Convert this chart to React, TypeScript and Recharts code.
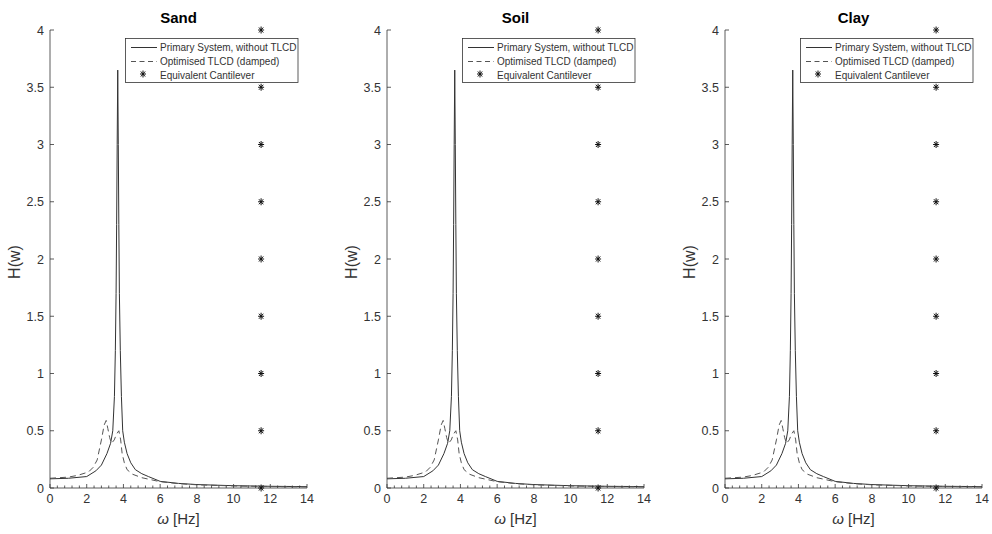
import React from "react";
import { ComposedChart, Line, Scatter, XAxis, YAxis, Legend } from "recharts";

const FONT = '"Liberation Sans", Arial, sans-serif';
const INK = "#333333";

const PANEL_TITLES = ["Sand", "Soil", "Clay"];
const PANEL_LEFT = [0, 337, 675];

// primary system, without TLCD (solid)
const PRIMARY_FREQ = [0, 1, 2, 2.5, 2.8, 3.1, 3.3, 3.42, 3.51, 3.56, 3.6, 3.63, 3.66, 3.69, 3.72, 3.75, 3.78, 3.83, 3.89, 3.96, 4.05, 4.2, 4.4, 4.65, 5, 5.36, 6, 7, 8, 10, 12, 14];
const PRIMARY_H = [0.08, 0.085, 0.1, 0.15, 0.2, 0.3, 0.39, 0.5, 0.8, 1.2, 1.7, 2.3, 3.0, 3.65, 3.0, 2.3, 1.7, 1.2, 0.8, 0.5, 0.4, 0.3, 0.22, 0.16, 0.125, 0.1, 0.058, 0.04, 0.03, 0.02, 0.015, 0.012];

// optimised TLCD, damped (dashed)
const TLCD_FREQ = [0, 1, 1.5, 2.1, 2.35, 2.57, 2.8, 2.95, 3.06, 3.15, 3.25, 3.35, 3.5, 3.62, 3.75, 3.85, 3.93, 4.05, 4.2, 4.5, 5, 6, 7, 8, 10, 12, 14];
const TLCD_H = [0.085, 0.095, 0.11, 0.14, 0.18, 0.245, 0.42, 0.55, 0.59, 0.52, 0.44, 0.39, 0.42, 0.47, 0.5, 0.42, 0.3, 0.22, 0.16, 0.12, 0.09, 0.055, 0.038, 0.028, 0.018, 0.013, 0.01];

// equivalent cantilever (stars)
const CANTILEVER_FREQ = [11.5, 11.5, 11.5, 11.5, 11.5, 11.5, 11.5, 11.5, 11.5];
const CANTILEVER_H = [0, 0.5, 1, 1.5, 2, 2.5, 3, 3.5, 4];

const X_TICKS = [0, 2, 4, 6, 8, 10, 12, 14];
const X_MINOR_TICKS = [0, 0.4, 0.8, 1.2, 1.6, 2, 2.4, 2.8, 3.2, 3.6, 4, 4.4, 4.8, 5.2, 5.6, 6, 6.4, 6.8, 7.2, 7.6, 8, 8.4, 8.8, 9.2, 9.6, 10, 10.4, 10.8, 11.2, 11.6, 12, 12.4, 12.8, 13.2, 13.6, 14];
const Y_TICKS = [0, 0.5, 1, 1.5, 2, 2.5, 3, 3.5, 4];

const primary = PRIMARY_FREQ.map((f, i) => ({ f, h: PRIMARY_H[i] }));
const tlcd = TLCD_FREQ.map((f, i) => ({ f, h: TLCD_H[i] }));
const cantilever = CANTILEVER_FREQ.map((f, i) => ({ f, h: CANTILEVER_H[i] }));

const CHART_W = 330;
const CHART_H = 534;

function Star({ cx, cy }: any) {
  const rx = 3;
  const ry = 3.5;
  const dx = rx * 0.72;
  const dy = ry * 0.72;
  return (
    <g stroke="#111" strokeWidth={1}>
      <line x1={cx - rx} y1={cy} x2={cx + rx} y2={cy} />
      <line x1={cx} y1={cy - ry} x2={cx} y2={cy + ry} />
      <line x1={cx - dx} y1={cy - dy} x2={cx + dx} y2={cy + dy} />
      <line x1={cx - dx} y1={cy + dy} x2={cx + dx} y2={cy - dy} />
    </g>
  );
}

function XTick({ x, y, payload }: any) {
  const major = X_TICKS.includes(payload.value);
  return (
    <g>
      <line x1={x} y1={y} x2={x} y2={y - (major ? 4 : 2.5)} stroke={INK} strokeWidth={0.8} />
      {major && (
        <text x={x} y={y + 15} textAnchor="middle" fontSize={12.5} fontFamily={FONT} fill={INK}>
          {payload.value}
        </text>
      )}
    </g>
  );
}

function YTick({ x, y, payload }: any) {
  return (
    <g>
      <line x1={x} y1={y} x2={x + 4} y2={y} stroke={INK} strokeWidth={0.8} />
      <text x={x - 6} y={y + 4.5} textAnchor="end" fontSize={12.5} fontFamily={FONT} fill={INK}>
        {payload.value}
      </text>
    </g>
  );
}

const xLabel = ({ viewBox }: any) => (
  <text x={viewBox.x + viewBox.width / 2} y={viewBox.y + 36} textAnchor="middle" fontSize={15} fontFamily={FONT} fill={INK}>
    <tspan fontStyle="italic">ω</tspan> [Hz]
  </text>
);

const yLabel = ({ viewBox }: any) => {
  const cx = viewBox.x + 14;
  const cy = viewBox.y + viewBox.height / 2 + 3;
  return (
    <text x={cx} y={cy} transform={`rotate(-90, ${cx}, ${cy})`} textAnchor="middle" dominantBaseline="central" fontSize={16} fontFamily={FONT} fill={INK}>
      H(w)
    </text>
  );
};

function LegendBox() {
  return (
    <svg width={174} height={45} style={{ display: "block" }}>
      <rect x={0.5} y={0.5} width={172.5} height={44} fill="#fff" stroke={INK} strokeWidth={0.8} />
      <line x1={6} y1={9.5} x2={32} y2={9.5} stroke="#333" strokeWidth={1} />
      <text x={35} y={13} fontSize={10} fontFamily={FONT} fill={INK}>Primary System, without TLCD</text>
      <line x1={6} y1={23.5} x2={32} y2={23.5} stroke="#555" strokeWidth={1} strokeDasharray="5 3.5" />
      <text x={35} y={27} fontSize={10} fontFamily={FONT} fill={INK}>Optimised TLCD (damped)</text>
      <Star cx={18} cy={36} />
      <text x={35} y={40.5} fontSize={10} fontFamily={FONT} fill={INK}>Equivalent Cantilever</text>
    </svg>
  );
}

function Panel({ title, left }: { title: string; left: number }) {
  return (
    <div style={{ position: "absolute", left, top: 0, width: CHART_W, height: CHART_H }}>
      <svg width={CHART_W} height={30} style={{ position: "absolute", left: 0, top: 0 }}>
        <text x={178.5} y={23} textAnchor="middle" fontSize={15} fontWeight="bold" fontFamily={FONT} fill="#000">
          {title}
        </text>
      </svg>
      <ComposedChart width={CHART_W} height={CHART_H} margin={{ top: 30, right: 23, bottom: 0, left: 0 }}>
        <XAxis
          type="number"
          dataKey="f"
          domain={[0, 14]}
          ticks={X_MINOR_TICKS}
          interval={0}
          height={46}
          tickSize={0}
          tickMargin={0}
          tickLine={false}
          axisLine={{ stroke: INK, strokeWidth: 0.8 }}
          tick={(p: any) => <XTick {...p} />}
          label={xLabel}
        />
        <YAxis
          type="number"
          dataKey="h"
          domain={[0, 4]}
          ticks={Y_TICKS}
          interval={0}
          width={50}
          tickSize={0}
          tickMargin={0}
          tickLine={false}
          axisLine={{ stroke: INK, strokeWidth: 0.8 }}
          tick={(p: any) => <YTick {...p} />}
          label={yLabel}
        />
        <Legend
          layout="vertical"
          align="center"
          verticalAlign="middle"
          wrapperStyle={{ left: 125, top: 38, width: 174, height: 45 }}
          content={() => <LegendBox />}
        />
        <Line data={primary} dataKey="h" type="linear" dot={false} stroke="#333" strokeWidth={1} isAnimationActive={false} />
        <Line data={tlcd} dataKey="h" type="linear" dot={false} stroke="#555" strokeWidth={1} strokeDasharray="6 4" isAnimationActive={false} />
        <Scatter data={cantilever} dataKey="h" shape={(p: any) => <Star {...p} />} isAnimationActive={false} />
      </ComposedChart>
    </div>
  );
}

export default function App() {
  return (
    <div style={{ position: "absolute", left: 0, top: 0, width: 992, height: 534, background: "#fff", fontFamily: FONT }}>
      {PANEL_TITLES.map((t, i) => (
        <Panel key={t} title={t} left={PANEL_LEFT[i]} />
      ))}
    </div>
  );
}
